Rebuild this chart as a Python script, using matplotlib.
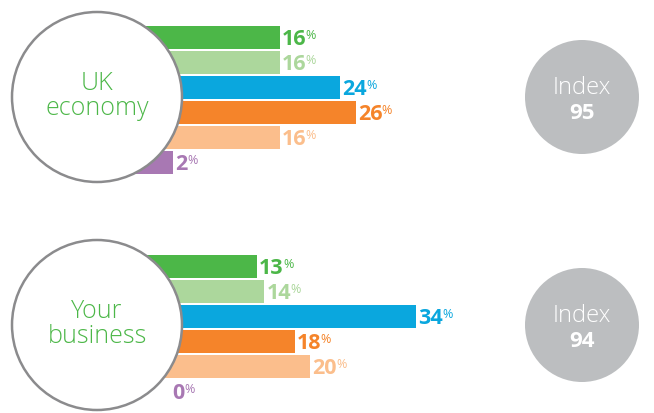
import numpy as np
import matplotlib.pyplot as plt
from matplotlib.patches import Circle

# Data
groups = ['UK\neconomy', 'Your\nbusiness']
index_values = [95, 94]
uk_economy = [16, 16, 24, 26, 16, 2]
your_business = [13, 14, 34, 18, 20, 0]
bar_colors = ['#4cb748', '#acd79c', '#0aa7de', '#f5842a', '#fbbe8c', '#a878b3']

plt.rcParams['font.family'] = ['Open Sans', 'DejaVu Sans']

fig = plt.figure(figsize=(6.54, 4.14), dpi=100)

# Bars: x in percentage points, y in pixels from the top
ax = fig.add_axes([0, 0, 1, 1])
px = 7.59  # pixels per percentage point
ax.set_xlim(-158.2 / px, (654 - 158.2) / px)
ax.set_ylim(414, 0)
ax.axis('off')

pad = 8  # bars start hidden under the circle
for g, vals in enumerate([uk_economy, your_business]):
    vals = np.array(vals)
    y = 38 + 25 * np.arange(len(vals)) + 229 * g
    widths = np.where(vals > 0, vals + pad, 0)
    ax.barh(y, widths, left=-pad, height=23, color=bar_colors)
    for yi, v, c in zip(y, vals, bar_colors):
        t = ax.text(max(v, 1.6) + 0.3, yi + 1.5, str(v), color=c, fontsize=15.5,
                    fontweight='bold', va='center', ha='left')
        ax.annotate('%', xy=(0.97, 1.02), xycoords=t, fontsize=9, color=c,
                    ha='left', va='top')

# Circles overlay, pixel coordinates
ov = fig.add_axes([0, 0, 1, 1])
ov.set_xlim(0, 654)
ov.set_ylim(414, 0)
ov.axis('off')
ov.patch.set_alpha(0)

for g, (name, idx) in enumerate(zip(groups, index_values)):
    cy = 98 + 228 * g
    ov.add_patch(Circle((97, cy), 85, facecolor='white', edgecolor='#8b8b8d', lw=1.8))
    ov.text(97, cy - 2, name, ha='center', va='center', fontsize=18,
            color='#4cb748', fontweight='light', linespacing=1.0)
    ov.add_patch(Circle((582, cy), 57, facecolor='#bcbec0', edgecolor='none'))
    ov.text(582, cy - 10, 'Index', ha='center', va='center', fontsize=17,
            color='white', fontweight='light')
    ov.text(582, cy + 16, str(idx), ha='center', va='center', fontsize=16,
            color='white', fontweight='bold')

fig.savefig('out.png', dpi=100)
